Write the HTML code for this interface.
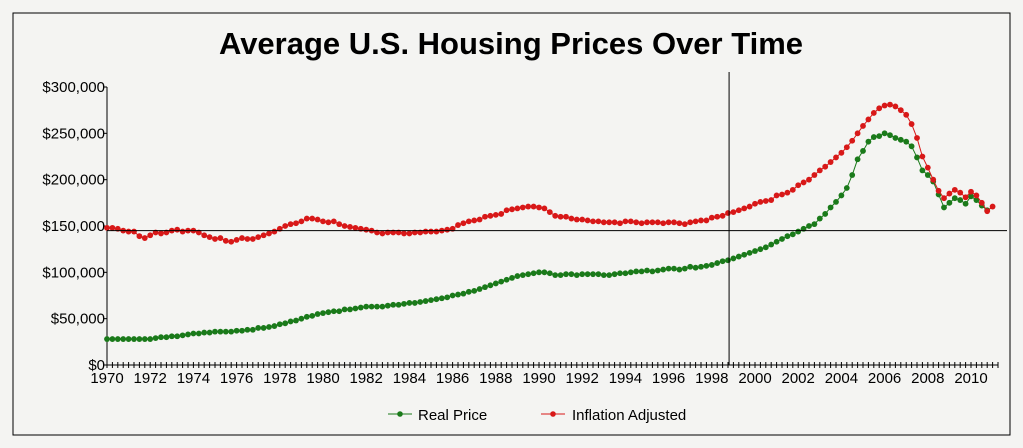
<!DOCTYPE html>
<html><head><meta charset="utf-8">
<style>
html,body{margin:0;padding:0;background:#f4f4f2;}
svg{display:block;font-family:"Liberation Sans",Arial,sans-serif;}
</style></head>
<body>
<svg id="chart" width="1023" height="448" viewBox="0 0 1023 448">
<rect x="0" y="0" width="1023" height="448" fill="#f4f4f2"/>
<rect x="13" y="13" width="997" height="422" fill="none" stroke="#000" stroke-width="1"/>
<text x="511" y="54" text-anchor="middle" font-size="31" font-weight="bold" fill="#000">Average U.S. Housing Prices Over Time</text>
<g id="axes"></g>
<g id="series"></g>
<g>
<g>
<line x1="388" y1="414" x2="412" y2="414" stroke="#1a7a1a" stroke-width="1"/>
<circle cx="400" cy="414" r="2.8" fill="#1a7a1a"/>
<text x="418" y="420" font-size="15" fill="#000">Real Price</text>
</g>
<g>
<line x1="541" y1="414" x2="565" y2="414" stroke="#d81818" stroke-width="1"/>
<circle cx="553" cy="414" r="2.8" fill="#d81818"/>
<text x="572" y="420" font-size="15" fill="#000">Inflation Adjusted</text>
</g>
</g>
</svg>
<script>
const yTicks = [0, 50000, 100000, 150000, 200000, 250000, 300000];
const yTickLabels = ["$0","$50,000","$100,000","$150,000","$200,000","$250,000","$300,000"];
const xTickYears = [1970,1972,1974,1976,1978,1980,1982,1984,1986,1988,1990,1992,1994,1996,1998,2000,2002,2004,2006,2008,2010];
const startYear = 1970;
// quarterly values in $ thousands, starting 1970 Q1
const realPrice = [
28,28,28,28, 28,28,28,28, 28,29,30,30, 31,31,32,33, 34,34,35,35,
36,36,36,36, 37,37,38,38, 40,40,41,42, 44,45,47,48, 50,52,53,55,
56,57,58,58, 60,60,61,62, 63,63,63,63, 64,65,65,66, 67,67,68,69,
70,71,72,73, 75,76,77,79, 80,82,84,86, 88,90,92,94, 96,97,98,99,
100,100,99,97, 97,98,98,97, 98,98,98,98, 97,97,98,99, 99,100,101,101,
102,101,102,103, 104,104,103,104, 106,105,106,107, 108,110,112,113, 115,117,119,121,
123,125,127,130, 133,136,139,141, 144,147,150,152, 158,163,170,176, 183,191,205,222,
231,241,246,247, 250,248,245,243, 241,236,224,210, 205,198,184,170, 175,180,178,174,
182,178,172,167
];
const inflationAdjusted = [
148,148,147,145, 144,144,139,137, 140,143,142,143, 145,146,144,145, 145,143,140,138,
136,137,134,133, 135,137,136,136, 138,140,142,144, 147,150,152,153, 155,158,158,157,
155,154,155,152, 150,149,148,147, 146,145,143,142, 143,143,143,142, 142,143,143,144,
144,144,145,146, 147,151,153,155, 156,157,160,161, 162,163,167,168, 169,170,171,171,
170,169,165,161, 160,160,158,157, 157,156,155,155, 154,154,154,153, 155,155,154,153,
154,154,154,153, 154,154,153,152, 154,155,156,156, 159,160,161,164, 165,167,169,171,
174,176,177,178, 183,184,186,189, 194,197,200,205, 210,214,219,224, 229,235,242,250,
258,265,272,277, 280,281,279,275, 270,260,245,225, 213,200,188,180, 185,189,186,181,
187,183,175,166, 171
];
const crossYear = 1998.8, crossValue = 145000;

const X0 = 107, PXY = 21.6, Y0 = 365, PXV = 278 / 300000;
const xScale = yr => X0 + (yr - startYear) * PXY;
const yScale = v => Y0 - v * PXV;
const NS = "http://www.w3.org/2000/svg";
const axes = document.getElementById('axes');
const series = document.getElementById('series');
function mk(tag, attrs, parent){ const e=document.createElementNS(NS,tag); for(const k in attrs) e.setAttribute(k,attrs[k]); parent.appendChild(e); return e; }

let yAxis = mk('line',{x1:X0,y1:yScale(300000),x2:X0,y2:Y0,stroke:'#000','stroke-width':1},axes);


let xAxis = mk('line',{x1:X0,y1:Y0,x2:xScale(2011.25),y2:Y0,stroke:'#000','stroke-width':1},axes);



yTicks.forEach((v,i)=>{
  const y = yScale(v);
  const t = mk('line',{x1:X0-4,y1:y,x2:X0,y2:y,stroke:'#000'},axes);
  
  
  const l = mk('text',{x:X0-2,y:y+5,'text-anchor':'end','font-size':15,fill:'#000'},axes);
  l.textContent = yTickLabels[i];
  
  
});
for(let q=0;q<=165;q++){
  const x = xScale(startYear + q/4);
  const t = mk('line',{x1:x,y1:Y0-3,x2:x,y2:Y0+3,stroke:'#000','stroke-width':1},axes);
  
  
}
xTickYears.forEach(yr=>{
  const l = mk('text',{x:xScale(yr),y:Y0+18,'text-anchor':'middle','font-size':15,fill:'#000'},axes);
  l.textContent = yr;
  
  
});

function drawSeries(vals, color, name){
  const g = mk('g',{},series);
  
  
  const pts = vals.map((v,i)=>xScale(startYear+i/4)+','+yScale(v*1000)).join(' ');
  const pl = mk('polyline',{points:pts,fill:'none',stroke:color,'stroke-width':1},g);
  
  
  vals.forEach((v,i)=>{
    const c = mk('circle',{cx:xScale(startYear+i/4),cy:yScale(v*1000),r:2.9,fill:color},g);
    
    
  });
}
drawSeries(realPrice,'#1a7a1a','real-price-series');
drawSeries(inflationAdjusted,'#d81818','inflation-adjusted-series');

const vx = xScale(crossYear);
const vl = mk('line',{x1:vx,y1:72,x2:vx,y2:Y0,stroke:'#000','stroke-width':1},series);


const hy = yScale(crossValue);
const hl = mk('line',{x1:X0,y1:hy,x2:1007,y2:hy,stroke:'#000','stroke-width':1},series);


</script>
</body></html>
